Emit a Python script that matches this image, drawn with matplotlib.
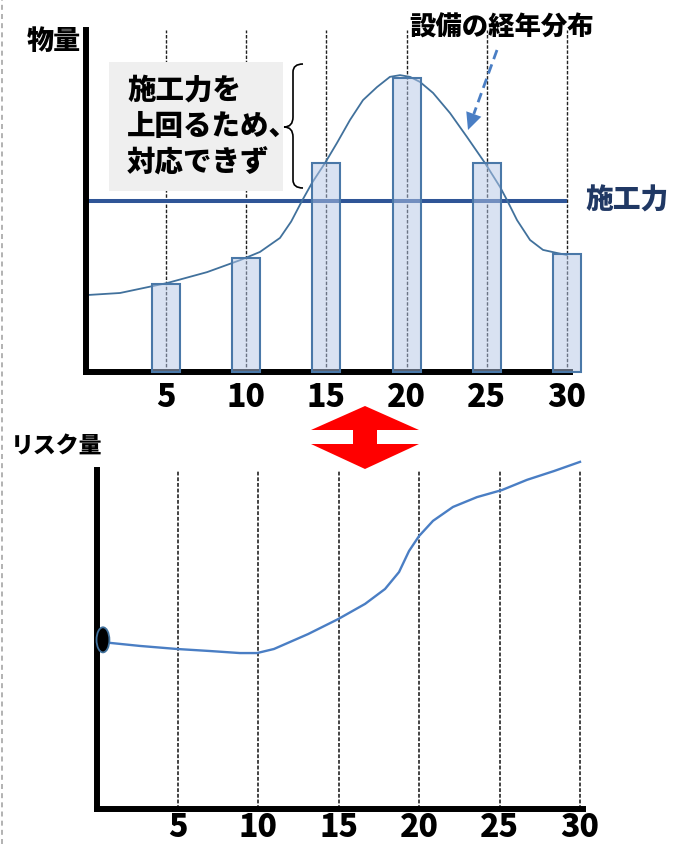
import matplotlib
matplotlib.use("Agg")
import matplotlib.pyplot as plt
from matplotlib.patches import Rectangle, Polygon, Ellipse, PathPatch
from matplotlib.lines import Line2D
from matplotlib.path import Path
import numpy as np

plt.rcParams['font.family'] = ['Noto Sans CJK JP', 'DejaVu Sans']

W, H = 674, 844

# 上段: 設備の経年分布
years = [5, 10, 15, 20, 25, 30]
bar_amount = [25.7, 33.3, 61.1, 86.0, 61.1, 34.5]
capacity = 50.0
dist_x = [0.06, 2.12, 5.05, 7.55, 9.61, 10.85, 12.1, 12.8, 13.47, 14.1, 14.91, 15.66,
          16.47, 17.28, 18.15, 18.96, 19.59, 20.21, 20.84, 21.65, 22.71, 23.77, 24.89,
          25.83, 26.26, 26.89, 27.7, 28.51, 29.38, 30.0]
dist_y = [22.5, 23.1, 26.0, 29.2, 32.7, 35.1, 39.2, 44.0, 50.0, 55.3, 61.1, 67.0,
          73.7, 79.5, 83.3, 86.3, 86.8, 86.3, 84.8, 81.6, 75.7, 68.7, 61.1,
          54.1, 50.3, 44.4, 38.6, 35.7, 34.8, 34.2]

# 下段: リスク量
risk_x = [0.37, 0.81, 2.67, 4.97, 7.02, 8.88, 9.94, 10.99, 13.11, 14.97, 16.65, 17.89,
          18.76, 19.38, 20.0, 20.87, 22.11, 23.6, 25.16, 26.71, 28.39, 30.0]
risk_y = [49.9, 49.0, 48.1, 47.2, 46.6, 46.0, 46.0, 47.2, 51.6, 56.0, 60.5, 64.9,
          69.9, 76.1, 80.5, 85.0, 89.1, 92.0, 94.1, 97.1, 99.7, 102.4]
tick_labels = ['5', '10', '15', '20', '25', '30']


def px(x, y):
    return x / W, 1 - y / H


def add_axes_px(left, top, right, bottom):
    return fig.add_axes([left / W, 1 - bottom / H, (right - left) / W, (bottom - top) / H])


def style_axes(ax, pad):
    for s in ['top', 'right']:
        ax.spines[s].set_visible(False)
    for s in ['left', 'bottom']:
        ax.spines[s].set_linewidth(4.3)
        ax.spines[s].set_capstyle('projecting')
    ax.set_yticks([])
    ax.set_xticks(years)
    ax.set_xticklabels(tick_labels, fontsize=23, fontweight='heavy')
    ax.tick_params(axis='x', length=0, pad=pad)
    ax.patch.set_alpha(0)


fig = plt.figure(figsize=(W / 100, H / 100), dpi=100)

# ---- 上段 ----
ax1 = add_axes_px(86, 30, 570, 372)
ax1.set_xlim(0, (570 - 86) / 16.03)
ax1.set_ylim(0, 100)
style_axes(ax1, 6)
for x in years:
    ax1.axvline(x, color='#222222', lw=1.0, ls=(0, (2.5, 1.2)), zorder=1)
ax1.hlines(capacity, 0, 30, color='#2F5597', lw=2.9, zorder=2)
ax1.plot(dist_x, dist_y, color='#41719C', lw=1.3, zorder=2, clip_on=False)
bars = ax1.bar(years, bar_amount, width=1.75, facecolor=(0.71, 0.78, 0.906, 0.5),
               edgecolor='#4A78A8', linewidth=1.5, zorder=3)
for b in bars:
    b.set_clip_on(False)

# ---- 下段 ----
ax2 = add_axes_px(97, 470, 583, 809)
ax2.set_xlim(0, (583 - 97) / 16.1)
ax2.set_ylim(0, 100)
style_axes(ax2, 1)
for x in years:
    ax2.axvline(x, color='#111111', lw=1.1, ls=(0, (2.5, 1.2)), zorder=1)
ax2.plot(risk_x, risk_y, color='#4A7EC4', lw=1.7, zorder=2, clip_on=False)
ax2.add_patch(Ellipse((risk_x[0], risk_y[0]), 0.8, 7.4, facecolor='black',
                      edgecolor='#41719C', lw=1.3, zorder=4, clip_on=False))

# ---- 注記 ----
fig.add_artist(Line2D([1.5 / W, 1.5 / W], [0, 1], color='#A6A6A6', lw=1.2, ls=(0, (3, 2.5))))

box_l, box_t, box_r, box_b = 109, 62, 283, 191
fig.add_artist(Rectangle(px(box_l, box_b), (box_r - box_l) / W, (box_b - box_t) / H,
                         facecolor='#EFEFEF', edgecolor='none', zorder=1))
fig.text(*px(127, 126), '施工力を\n上回るため、\n対応できず', fontsize=20.5, fontweight='heavy',
         ha='left', va='center', linespacing=1.3, zorder=3)

# 中括弧
bx, tip = 293, 284
verts = [(303, 64), (293, 64), (bx, 72), (bx, 117), (bx, 127), (tip, 127),
         (bx, 127), (bx, 137), (bx, 180), (bx, 188), (303, 188)]
codes = [Path.MOVETO, Path.CURVE3, Path.CURVE3, Path.LINETO, Path.CURVE3, Path.CURVE3,
         Path.CURVE3, Path.CURVE3, Path.LINETO, Path.CURVE3, Path.CURVE3]
brace = Path([px(*v) for v in verts], codes)
fig.add_artist(PathPatch(brace, facecolor='none', edgecolor='black', lw=1.2,
                         transform=fig.transFigure))

fig.text(*px(27, 41), '物量', fontsize=19.5, fontweight='heavy', ha='left', va='center')
fig.text(*px(409, 27), '設備の経年分布', fontsize=19, fontweight='heavy', ha='left', va='center')
fig.text(*px(585, 200), '施工力', fontsize=20, fontweight='heavy', color='#203864',
         ha='left', va='center')
fig.text(*px(11, 447), 'リスク量', fontsize=16.5, fontweight='heavy', ha='left', va='center')

# 点線の矢印
start, end = np.array([497, 50]), np.array([468, 130])
u = (end - start) / np.linalg.norm(end - start)
perp = np.array([u[1], -u[0]])
base = end - 17 * u
fig.add_artist(Line2D([start[0] / W, base[0] / W], [1 - start[1] / H, 1 - base[1] / H],
                      color='#4A7EC4', lw=2.0, ls=(0, (3.5, 2))))
head = [end, base + 8 * perp, base - 8 * perp]
fig.add_artist(Polygon([px(*p) for p in head], closed=True, facecolor='#4A7EC4',
                       edgecolor='none', transform=fig.transFigure))

# 赤い両矢印
arrow_pts = [(365, 406), (419, 430), (377, 430), (377, 444), (419, 444), (365, 469),
             (311, 444), (353, 444), (353, 430), (311, 430)]
fig.add_artist(Polygon([px(*p) for p in arrow_pts], closed=True, facecolor='#FF0000',
                       edgecolor='none', transform=fig.transFigure))

fig.savefig('out.png', dpi=100)
